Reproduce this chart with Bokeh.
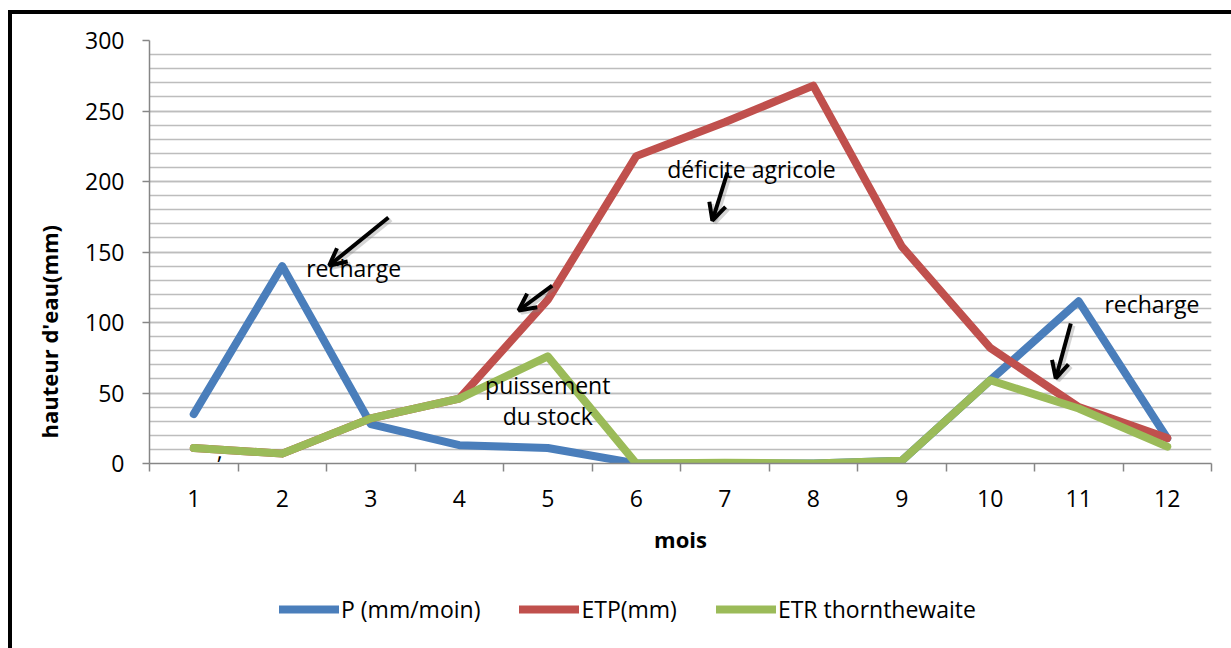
from bokeh.plotting import figure
from bokeh.layouts import column
from bokeh.models import (FixedTicker, SingleIntervalTicker, Legend, LegendItem,
                          Label, Arrow, OpenHead, Range1d, Title)
from bokeh.embed import file_html
from bokeh.resources import INLINE

# Monthly water balance (Thornthwaite)
mois = list(range(1, 13))
p_mm = [35, 140, 28, 13, 11, 0, 0, 0, 2, 59, 115, 18]
etp_mm = [11, 7, 32, 46, 116, 218, 242, 268, 154, 82, 40, 18]
etr_thornthwaite = [11, 7, 32, 46, 76, 0, 0.5, 0, 2, 59, 39, 12]

series_names = ["P (mm/moin)", "ETP(mm)", "ETR thornthewaite"]
series_colors = ["#4A7EBB", "#C0504D", "#9BBB59"]
series_values = [p_mm, etp_mm, etr_thornthwaite]

# Hand-placed notes: (text, x, y, align)
notes = [
    ("recharge", 2.27, 139, "left"),
    ("déficite agricole", 6.35, 209, "left"),
    ("puissement", 5.0, 56, "center"),
    ("du stock", 5.0, 34, "center"),
    ("recharge", 11.29, 113, "left"),
    (",", 1.26, 9, "left"),
]
# Note arrows: (x_tail, y_tail, x_head, y_head)
note_arrows = [
    (3.20, 174.5, 2.53, 140.4),
    (5.05, 126.2, 4.67, 108.5),
    (7.03, 206.4, 6.86, 172.3),
    (10.91, 99.3, 10.74, 60.3),
]

FONT = "Open Sans"
W = 1219                     # canvas width inside the page border
H_CHART, H_LEG = 560, 74
left, right, top, bottom = 137, 1199, 26, 449   # plot frame in canvas pixels

p = figure(width=W, height=H_CHART, output_backend="svg", toolbar_location=None,
           x_range=Range1d(0.5, 12.5), y_range=Range1d(0, 300),
           min_border_left=left, min_border_right=W - right,
           min_border_top=top, min_border_bottom=H_CHART - bottom)
p.outline_line_color = None
p.background_fill_color = "white"
p.border_fill_color = "white"

# grid
p.xgrid.grid_line_color = None
p.ygrid.grid_line_color = "#BDBDBD"
p.ygrid.grid_line_width = 1.5
p.ygrid.minor_grid_line_color = "#BDBDBD"
p.ygrid.minor_grid_line_width = 1.5

# y axis
p.yaxis.ticker = SingleIntervalTicker(interval=50, num_minor_ticks=5)
p.yaxis.axis_line_color = "#868686"
p.yaxis.axis_line_width = 1.5
p.yaxis.major_tick_line_color = "#868686"
p.yaxis.major_tick_line_width = 1.5
p.yaxis.major_tick_out = 7
p.yaxis.major_tick_in = 0
p.yaxis.minor_tick_line_color = None
p.yaxis.major_label_standoff = 18
p.yaxis.major_label_text_font = FONT
p.yaxis.major_label_text_font_size = "23px"
p.yaxis.major_label_text_color = "black"

p.add_layout(Title(text="hauteur d'eau(mm)", align="left", offset=25, standoff=37,
                   text_font=FONT, text_font_size="22px", text_font_style="bold",
                   text_color="black"), "left")

# x axis: labels at months, ticks on the boundaries
p.xaxis.ticker = FixedTicker(ticks=mois, minor_ticks=[m - 0.5 for m in mois] + [12.5])
p.xaxis.axis_line_color = "#868686"
p.xaxis.axis_line_width = 1.5
p.xaxis.major_tick_line_color = None
p.xaxis.major_tick_out = 0
p.xaxis.major_tick_in = 0
p.xaxis.minor_tick_line_color = "#868686"
p.xaxis.minor_tick_line_width = 1.5
p.xaxis.minor_tick_out = 8
p.xaxis.minor_tick_in = 0
p.xaxis.major_label_standoff = 18
p.xaxis.major_label_text_font = FONT
p.xaxis.major_label_text_font_size = "23px"
p.xaxis.major_label_text_color = "black"
p.xaxis.axis_label = "mois"
p.xaxis.axis_label_text_font = FONT
p.xaxis.axis_label_text_font_size = "22px"
p.xaxis.axis_label_text_font_style = "bold"
p.xaxis.axis_label_text_color = "black"
p.xaxis.axis_label_standoff = 14

line_style = dict(line_width=8, line_join="round", line_cap="round")
for vals, color in zip(series_values, series_colors):
    p.line(mois, vals, line_color=color, **line_style)

for x0, y0, x1, y1 in note_arrows:
    # soft shadow, then the arrow itself
    p.add_layout(Arrow(x_start=x0 + 0.03, y_start=y0 - 1.6, x_end=x1 + 0.03, y_end=y1 - 1.6,
                       line_color="#888888", line_alpha=0.35, line_width=4,
                       end=OpenHead(size=17, line_width=4, line_color="#888888", line_alpha=0.35)))
    p.add_layout(Arrow(x_start=x0, y_start=y0, x_end=x1, y_end=y1,
                       line_color="black", line_width=4,
                       end=OpenHead(size=17, line_width=4, line_color="black")))

for txt, x, y, align in notes:
    p.add_layout(Label(x=x, y=y, text=txt, text_align=align, text_baseline="middle",
                       text_font=FONT, text_font_size="23px", text_color="black"))

# legend strip under the chart; its series sit outside its (empty) view window
leg = figure(width=W, height=H_LEG, output_backend="svg", toolbar_location=None,
             x_axis_location=None, y_axis_location=None,
             x_range=Range1d(-200, -199), y_range=Range1d(-200, -199),
             min_border_left=0, min_border_right=0, min_border_top=0, min_border_bottom=0)
leg.outline_line_color = None
leg.grid.visible = False
leg.border_fill_color = "white"
items = []
for name, vals, color in zip(series_names, series_values, series_colors):
    r = leg.line(mois, vals, line_color=color, **line_style)
    items.append(LegendItem(label=name, renderers=[r]))
leg.add_layout(Legend(items=items, orientation="horizontal", location=(130, 23),
                      glyph_width=60, glyph_height=28, label_height=28,
                      label_standoff=2, spacing=39, padding=0, margin=0,
                      border_line_color=None, background_fill_alpha=0,
                      label_text_font=FONT, label_text_font_size="23px",
                      label_text_color="black"))

page = column(p, leg, spacing=0)
page.margin = (10, 0, 0, 8)
page.styles = {"border-left": "4px solid black", "border-top": "4px solid black"}

open("out.html", "w").write(file_html(page, INLINE))
